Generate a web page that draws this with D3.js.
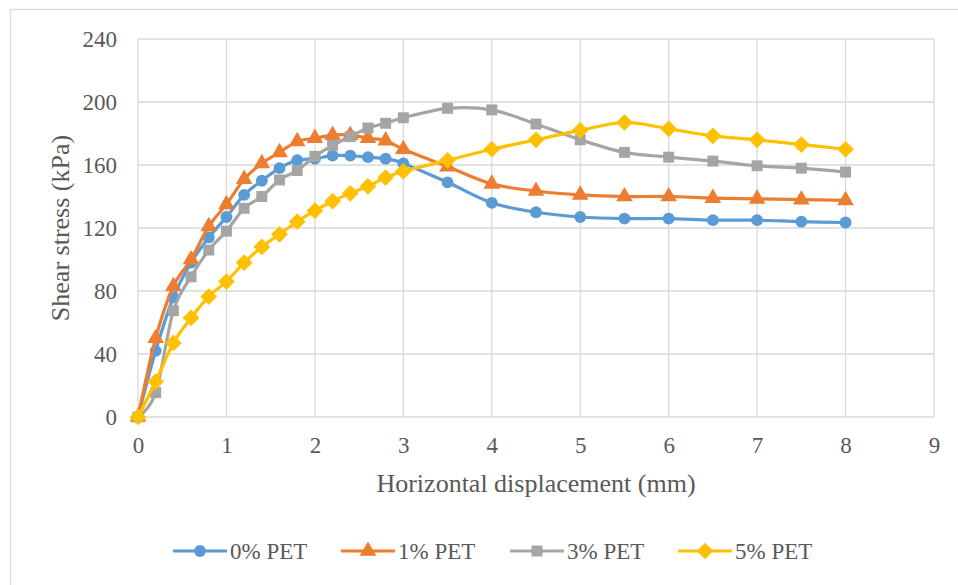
<!DOCTYPE html>
<html><head><meta charset="utf-8">
<script src="https://cdn.jsdelivr.net/npm/d3@7"></script>
<style>
html,body{margin:0;padding:0;background:#fff;}
svg{display:block;}
svg text{font-family:"Liberation Serif","Times New Roman",Times,serif !important;}
</style></head>
<body><svg id="chart" width="958" height="585"></svg>
<script>
const displacement = [0,0.2,0.4,0.6,0.8,1.0,1.2,1.4,1.6,1.8,2.0,2.2,2.4,2.6,2.8,3.0,3.5,4,4.5,5,5.5,6,6.5,7,7.5,8];
const pet0 = [0,42,76,98,114,127,141,150,158,163,164,166,166,165,164,161,149,136,130,127,126,126,125,125,124,123.5];
const pet1 = [0,50,83,100,121,135,151,161,168,175,177,179,179,177,175.5,170,159,148,143.5,141,140,140,139,138.5,138,137.5];
const pet3 = [0,15.5,67.5,89,106,118,132.5,140,150.5,156.5,165.5,172.5,178,183.5,186.5,190,196,195,186,176,168,165,162.5,159.5,158,155.5];
const pet5 = [0,22.5,47,63,76.5,86,98,108,116,124,131,137,142,146.5,152,156,163,170,176,182,187,183,178.5,176,173,170];
const seriesNames = ["0% PET","1% PET","3% PET","5% PET"];
const seriesValues = [pet0, pet1, pet3, pet5];
const xTicks = [0,1,2,3,4,5,6,7,8,9];
const yTicks = [0,40,80,120,160,200,240];
const xTitle = "Horizontal displacement (mm)";
const yTitle = "Shear stress (kPa)";

const colors = ["#5B9BD5","#ED7D31","#A5A5A5","#FFC000"];
// equal-sided diamond (rotated square)
const symDiamondSq = {draw(ctx, size){ const r = Math.sqrt(size/2); ctx.moveTo(0,-r); ctx.lineTo(r,0); ctx.lineTo(0,r); ctx.lineTo(-r,0); ctx.closePath(); }};
const symbols = [d3.symbolCircle, d3.symbolTriangle, d3.symbolSquare, symDiamondSq];
const symSizes = [110, 120, 120, 140];
const textColor = "#595959";
const gridColor = "#d9d9d9";
const serif = '"Liberation Serif","Times New Roman",Times,serif';

const svg = d3.select("#chart");
const W = 958, H = 585;
svg.append("rect").attr("x",10.5).attr("y",9.5).attr("width",W).attr("height",H)
  .attr("fill","none").attr("stroke",gridColor).attr("stroke-width",1.3);

const L = 138, R = 934, T = 39, B = 417;
const x = d3.scaleLinear().domain([0,9]).range([L,R]);
const y = d3.scaleLinear().domain([0,240]).range([B,T]);

const g = svg.append("g");
g.selectAll("line.vx").data(xTicks).join("line")
  .attr("x1",d=>x(d)).attr("x2",d=>x(d)).attr("y1",T).attr("y2",B)
  .attr("stroke",gridColor).attr("stroke-width",1.3);
g.selectAll("line.hy").data(yTicks).join("line")
  .attr("x1",L).attr("x2",R).attr("y1",d=>y(d)).attr("y2",d=>y(d))
  .attr("stroke",gridColor).attr("stroke-width",1.3);

const xAxis = svg.append("g").attr("transform",`translate(0,${B})`)
  .call(d3.axisBottom(x).tickValues(xTicks).tickSize(0).tickPadding(20).tickFormat(d3.format("d")))
  .attr("font-family",serif).attr("font-size",23);
xAxis.select(".domain").remove();
xAxis.selectAll("text").attr("fill",textColor);

const yAxis = svg.append("g").attr("transform",`translate(${L},0)`)
  .call(d3.axisLeft(y).tickValues(yTicks).tickSize(0).tickPadding(21).tickFormat(d3.format("d")))
  .attr("font-family",serif).attr("font-size",23);
yAxis.select(".domain").remove();
yAxis.selectAll("text").attr("fill",textColor);

svg.append("text").attr("x",(L+R)/2).attr("y",492).attr("text-anchor","middle")
  .attr("fill",textColor).attr("font-family",serif).attr("font-size",26).text(xTitle);
svg.append("text").attr("transform",`translate(69,${(T+B)/2}) rotate(-90)`).attr("text-anchor","middle")
  .attr("fill",textColor).attr("font-family",serif).attr("font-size",26).text(yTitle);

const line = d3.line().x(d=>x(d[0])).y(d=>y(d[1])).curve(d3.curveCardinal.tension(0));
seriesValues.forEach((vals,i)=>{
  const pts = displacement.map((d,k)=>[d,vals[k]]);
  const sg = svg.append("g");
  sg.append("path").datum(pts).attr("d",line).attr("fill","none")
    .attr("stroke",colors[i]).attr("stroke-width",3.2).attr("stroke-linejoin","round");
  sg.selectAll("path.m").data(pts).join("path").attr("class","m")
    .attr("transform",d=>`translate(${x(d[0])},${y(d[1])})`)
    .attr("d",d3.symbol().type(symbols[i]).size(symSizes[i]))
    .attr("fill",colors[i]);
});

const legX = [173,341,510,678];
const legY = 551;
seriesNames.forEach((n,i)=>{
  const lg = svg.append("g").attr("transform",`translate(${legX[i]},${legY})`);
  lg.append("line").attr("x1",0).attr("x2",54).attr("y1",0).attr("y2",0)
    .attr("stroke",colors[i]).attr("stroke-width",3.2);
  lg.append("path").attr("transform","translate(27,0)")
    .attr("d",d3.symbol().type(symbols[i]).size(symSizes[i])).attr("fill",colors[i]);
  lg.append("text").attr("x",57).attr("y",8).attr("fill",textColor)
    .attr("font-family",serif).attr("font-size",23).text(n);
});
</script></body></html>
